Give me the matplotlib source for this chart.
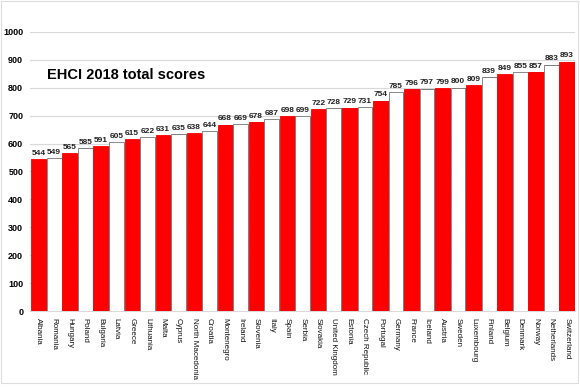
import matplotlib
matplotlib.use("Agg")
import matplotlib.pyplot as plt
import matplotlib.patheffects as pe

# EHCI 2018 scores, sorted low to high
countries = ["Albania", "Romania", "Hungary", "Poland", "Bulgaria", "Latvia", "Greece",
             "Lithuania", "Malta", "Cyprus", "North Macedonia", "Croatia", "Montenegro",
             "Ireland", "Slovenia", "Italy", "Spain", "Serbia", "Slovakia", "United Kingdom",
             "Estonia", "Czech Republic", "Portugal", "Germany", "France", "Iceland",
             "Austria", "Sweden", "Luxembourg", "Finland", "Belgium", "Denmark", "Norway",
             "Netherlands", "Switzerland"]
scores = [544, 549, 565, 585, 591, 605, 615, 622, 631, 635, 638, 644, 668, 669, 678, 687,
          698, 699, 722, 728, 729, 731, 754, 785, 796, 797, 799, 800, 809, 839, 849, 855,
          857, 883, 893]
yticks = [0, 100, 200, 300, 400, 500, 600, 700, 800, 900, 1000]

plt.rcParams['font.family'] = ['Liberation Sans', 'DejaVu Sans']

fig = plt.figure(figsize=(5.8, 3.88), dpi=100)
ax = fig.add_axes([0.052, 0.198, 0.94, 0.72])

x = list(range(len(countries)))
colors = ["#ff0000" if i % 2 == 0 else "white" for i in x]
edges = ["#ff0000" if i % 2 == 0 else "#777777" for i in x]
bars = ax.bar(x, scores, width=0.95, color=colors, edgecolor=edges, linewidth=0.6, zorder=3)
for b in bars:
    b.set_path_effects([pe.SimplePatchShadow(offset=(1, -0.5), shadow_rgbFace="#333333", alpha=0.8),
                        pe.Normal()])

for i, v in enumerate(scores):
    ax.text(i, v + 8, str(v), ha="center", va="bottom", fontsize=6, fontweight="bold",
            color="#222222", zorder=4)

ax.set_ylim(0, 1000)
ax.set_xlim(-0.55, len(countries) - 0.45)
ax.set_yticks(yticks)
ax.set_yticklabels([str(t) for t in yticks], fontsize=6.5, fontweight="bold")
ax.set_xticks(x)
ax.set_xticklabels(countries, rotation=270, fontsize=5.8, color="#111111")
ax.tick_params(axis="y", length=0, pad=5)
ax.tick_params(axis="x", length=0, pad=5)
ax.grid(axis="y", color="#d9d9d9", linewidth=0.8, zorder=0)
for s in ["top", "right", "left"]:
    ax.spines[s].set_visible(False)
ax.spines["bottom"].set_color("#d9d9d9")

ax.text(0.03, 0.846, "EHCI 2018 total scores", transform=ax.transAxes, fontsize=10.5,
        fontweight="bold", va="center")

fig.patches.append(plt.Rectangle((0.002, 0.012), 0.994, 0.985, transform=fig.transFigure,
                                 fill=False, edgecolor="#dddddd", linewidth=0.8))

fig.savefig("out.png", dpi=100)
